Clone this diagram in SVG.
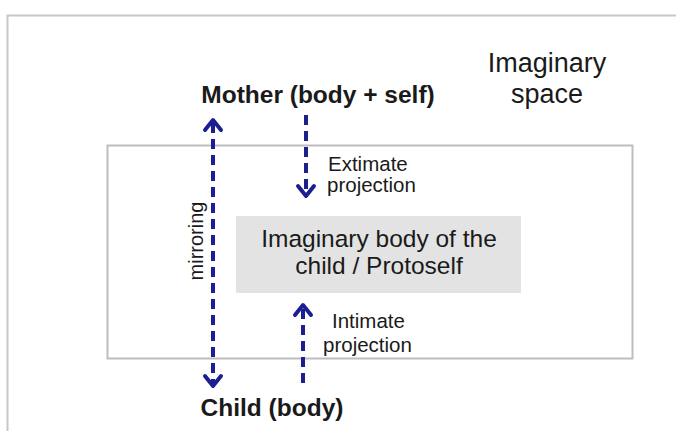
<svg xmlns="http://www.w3.org/2000/svg" width="676" height="431" viewBox="0 0 676 431">
<style>
text{font-family:"Liberation Sans",Arial,sans-serif;fill:#1a1a1a}
.b{font-weight:bold}
.lbl{font-size:20.5px}
.conn{stroke:#1c1f8f;stroke-width:4;fill:none;stroke-dasharray:10 6}
.head{stroke:#1c1f8f;stroke-width:4;fill:none;stroke-linecap:round;stroke-linejoin:round}
</style>
<rect width="676" height="431" fill="#ffffff"/>
<path d="M7.5 431 V15.5 H676" fill="none" stroke="#c8c8c8" stroke-width="2"/>
<g id="space">
<rect x="107.5" y="145.5" width="525" height="213" fill="#ffffff" stroke="#bdbdbd" stroke-width="2"/>
<text x="547" y="72" font-size="27" text-anchor="middle">Imaginary</text>
<text x="547" y="103" font-size="27" text-anchor="middle">space</text>
</g>
<g id="mother"><text class="b" x="318" y="103" font-size="24.5" text-anchor="middle">Mother (body + self)</text></g>
<g id="child"><text class="b" x="272" y="416" font-size="24.5" text-anchor="middle">Child (body)</text></g>
<g id="protoself">
<rect x="236" y="216" width="285" height="77" fill="#e3e3e3"/>
<text x="379" y="247" font-size="24.5" text-anchor="middle">Imaginary body of the</text>
<text x="379" y="274" font-size="24.5" text-anchor="middle">child / Protoself</text>
</g>
<g id="connectors">
<line class="conn" x1="213" y1="123" x2="213" y2="384"/>
<path class="head" d="M205 130 L213 120 L221 130"/>
<path class="head" d="M205 376 L213 386 L221 376"/>
<line class="conn" x1="306" y1="115" x2="306" y2="194"/>
<path class="head" d="M298 186 L306 196 L314 186"/>
<line class="conn" x1="303" y1="309" x2="303" y2="388"/>
<path class="head" d="M295 315 L303 305 L311 315"/>
<text class="lbl" x="328" y="171">Extimate</text>
<text class="lbl" x="327" y="192">projection</text>
<text class="lbl" x="332" y="328">Intimate</text>
<text class="lbl" x="323" y="352">projection</text>
<text x="0" y="0" font-size="20" text-anchor="middle" transform="translate(203 241) rotate(-90)">mirroring</text>
</g>
</svg>
